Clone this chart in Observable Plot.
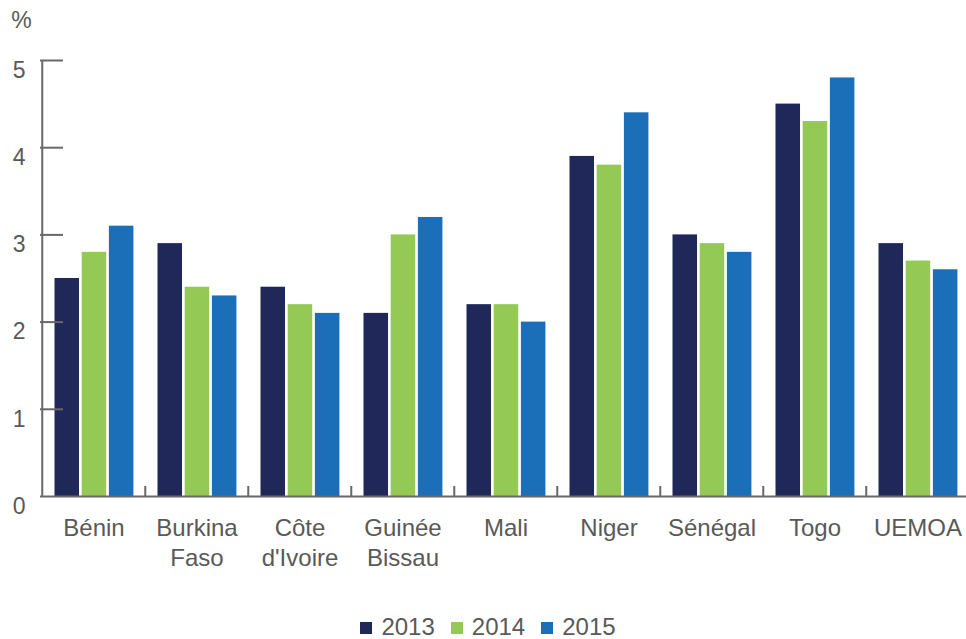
<!DOCTYPE html>
<html><head><meta charset="utf-8">
<script src="https://cdn.jsdelivr.net/npm/d3@7"></script>
<script src="https://cdn.jsdelivr.net/npm/@observablehq/plot@0.6"></script>
<style>
body{margin:0;background:#fff;font-family:"Liberation Sans",Arial,sans-serif;}
#wrap{position:relative;width:966px;height:639px;}
#legend{position:absolute;left:5px;top:615px;width:966px;height:24px;display:flex;justify-content:center;align-items:center;font-size:24px;color:#595959;}
.item{display:flex;align-items:center;margin:0 8px;}
.sw{width:12px;height:12px;margin-right:9px;margin-top:2px;}
</style></head><body>
<div id="wrap"><div id="chart"></div><div id="legend"></div></div>
<script>
const countries = ["Bénin","Burkina Faso","Côte d'Ivoire","Guinée Bissau","Mali","Niger","Sénégal","Togo","UEMOA"];
const tickLabels = ["Bénin","Burkina\nFaso","Côte\nd'Ivoire","Guinée\nBissau","Mali","Niger","Sénégal","Togo","UEMOA"];
const years = ["2013","2014","2015"];
const values2013 = [2.5,2.9,2.4,2.1,2.2,3.9,3.0,4.5,2.9];
const values2014 = [2.8,2.4,2.2,3.0,2.2,3.8,2.9,4.3,2.7];
const values2015 = [3.1,2.3,2.1,3.2,2.0,4.4,2.8,4.8,2.6];
const yTicks = [0,1,2,3,4,5];
const colors = ["#1F2859","#95C955","#1B6EB8"];

const series = [values2013, values2014, values2015];
const data = [];
years.forEach((yr, i) => countries.forEach((c, j) => data.push({country: c, year: yr, value: series[i][j]})));

const x0 = 40, x1 = 971.4;
const step = (x1 - x0) / countries.length;
const barW = 25, gap = 2.2, off = 12.5;
const axisColor = "#686868";
const textColor = "#595959";

const marks = [];
years.forEach((yr, i) => {
  const L = off + i * (barW + gap);
  marks.push(Plot.barY(data.filter(d => d.year === yr), {
    x: "country", y: "value", fill: "year",
    insetLeft: L, insetRight: step - L - barW
  }));
});
marks.push(
  Plot.ruleY([0], {stroke: axisColor, strokeWidth: 2}),
  Plot.ruleY(yTicks.slice(1), {y: d => d, stroke: axisColor, strokeWidth: 2, insetRight: 926 - 23}),
  Plot.ruleX([countries[0]], {x: d => d, y1: 0, y2: 5, dx: -step / 2, stroke: axisColor, strokeWidth: 2}),
  Plot.ruleX(countries.slice(1), {x: d => d, y1: 0, y2: 0.115, dx: -step / 2, stroke: axisColor, strokeWidth: 2}),
  Plot.text(countries, {x: d => d, text: (d, i) => tickLabels[i], frameAnchor: "bottom", textAnchor: "middle", lineAnchor: "top", dy: 18, fontSize: 24, fill: textColor, lineHeight: 1.25}),
  Plot.text(yTicks, {y: d => d, text: d => String(d), frameAnchor: "left", textAnchor: "end", lineAnchor: "middle", dx: -15, dy: 10, fontSize: 23, fill: textColor}),
  Plot.text(["%"], {text: d => d, frameAnchor: "top-left", textAnchor: "middle", lineAnchor: "middle", dx: -19, dy: -40, fontSize: 23, fill: textColor})
);

const chart = Plot.plot({
  width: 966, height: 600,
  marginLeft: 40, marginRight: 0, marginTop: 60, marginBottom: 104,
  x: {domain: countries, range: [x0, x1], padding: 0, axis: null},
  y: {domain: [0, 5], axis: null},
  color: {domain: years, range: colors},
  style: {fontFamily: '"Liberation Sans", Arial, sans-serif', fontSize: "23px", color: textColor, background: "#fff"},
  marks
});
document.getElementById("chart").appendChild(chart);

const legend = document.getElementById("legend");
years.forEach((yr, i) => {
  const item = document.createElement("div");
  item.className = "item";
  const sw = document.createElement("div");
  sw.className = "sw";
  sw.style.background = colors[i];
  const t = document.createElement("span");
  t.textContent = yr;
  item.appendChild(sw); item.appendChild(t);
  legend.appendChild(item);
});
</script>
</body></html>
